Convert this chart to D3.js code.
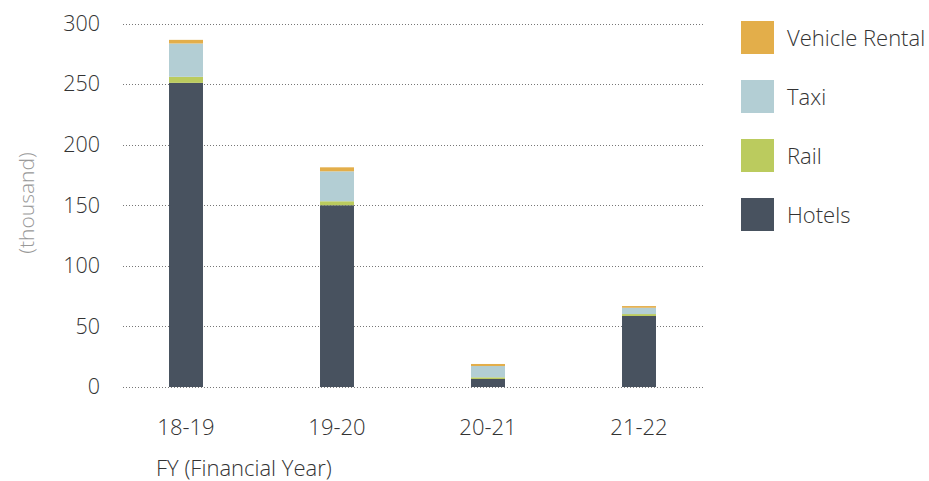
<!DOCTYPE html>
<html><head><meta charset="utf-8">
<script src="https://cdn.jsdelivr.net/npm/d3@7"></script>
<style>
body{margin:0;background:#fff;}
text{font-family:"Open Sans",sans-serif;font-weight:300;}
</style></head>
<body><svg id="c" width="929" height="481"></svg>
<script>
const categories = ["18-19","19-20","20-21","21-22"];
const hotels = [251, 150, 6.6, 58.6];
const rail = [5, 3.3, 1.4, 1.6];
const taxi = [27.5, 24.7, 9.3, 5.2];
const vehicleRental = [3, 3.3, 1.7, 1.4];
const seriesNames = ["Hotels","Rail","Taxi","Vehicle Rental"];
const seriesColors = ["#48525F","#BBCB5E","#B3CED4","#E3AE4A"];
const yTicks = [0,50,100,150,200,250,300];

const rows = categories.map((c,i)=>({cat:c,"Hotels":hotels[i],"Rail":rail[i],"Taxi":taxi[i],"Vehicle Rental":vehicleRental[i]}));
const stack = d3.stack().keys(seriesNames)(rows);

const svg = d3.select("#c");
const y = d3.scaleLinear().domain([0,300]).range([387,23.5]);
const x = d3.scaleBand().domain(categories).range([110.5,714.5]).paddingInner(0.775).paddingOuter(0.3875);
const color = d3.scaleOrdinal().domain(seriesNames).range(seriesColors);

// gridlines
svg.append("g").selectAll("line").data(yTicks).join("line")
  .attr("x1",123).attr("x2",705)
  .attr("y1",d=>Math.round(y(d))+0.5).attr("y2",d=>Math.round(y(d))+0.5)
  .attr("stroke","#777").attr("stroke-width",1).attr("stroke-dasharray","1,2");

// y axis labels
const yAxis = d3.axisLeft(y).tickValues(yTicks).tickSize(0).tickPadding(0);
const ya = svg.append("g").attr("transform","translate(100,0)").call(yAxis);
ya.select(".domain").remove();
ya.selectAll("text").attr("font-size",21.5).attr("fill","#333").attr("font-family","Open Sans").attr("font-weight",300);

// bars
svg.append("g").selectAll("g").data(stack).join("g")
  .attr("fill",d=>color(d.key))
  .selectAll("rect").data(d=>d).join("rect")
  .attr("x",d=>x(d.data.cat)).attr("width",x.bandwidth())
  .attr("y",d=>y(d[1])).attr("height",d=>y(d[0])-y(d[1]));

// x axis labels
const xAxis = d3.axisBottom(x).tickSize(0).tickPadding(0);
const xa = svg.append("g").attr("transform","translate(0,427)").call(xAxis);
xa.select(".domain").remove();
xa.selectAll("text").attr("font-size",22).attr("fill","#333").attr("font-family","Open Sans").attr("font-weight",300).attr("dy","0.35em").attr("y",0);

// axis titles
svg.append("text").attr("x",156).attr("y",476).attr("font-size",22).attr("fill","#333").text("FY (Financial Year)");
svg.append("text").attr("transform","translate(34,203) rotate(-90)").attr("text-anchor","middle")
  .attr("font-size",21).attr("fill","#999").text("(thousand)");

// legend
const legendOrder = ["Vehicle Rental","Taxi","Rail","Hotels"];
const lg = svg.append("g").selectAll("g").data(legendOrder).join("g")
  .attr("transform",(d,i)=>`translate(741,${21+i*59})`);
lg.append("rect").attr("width",33).attr("height",33).attr("fill",d=>color(d));
lg.append("text").attr("x",46).attr("y",17).attr("dy","0.35em").attr("font-size",22).attr("fill","#333").text(d=>d);
</script></body></html>
